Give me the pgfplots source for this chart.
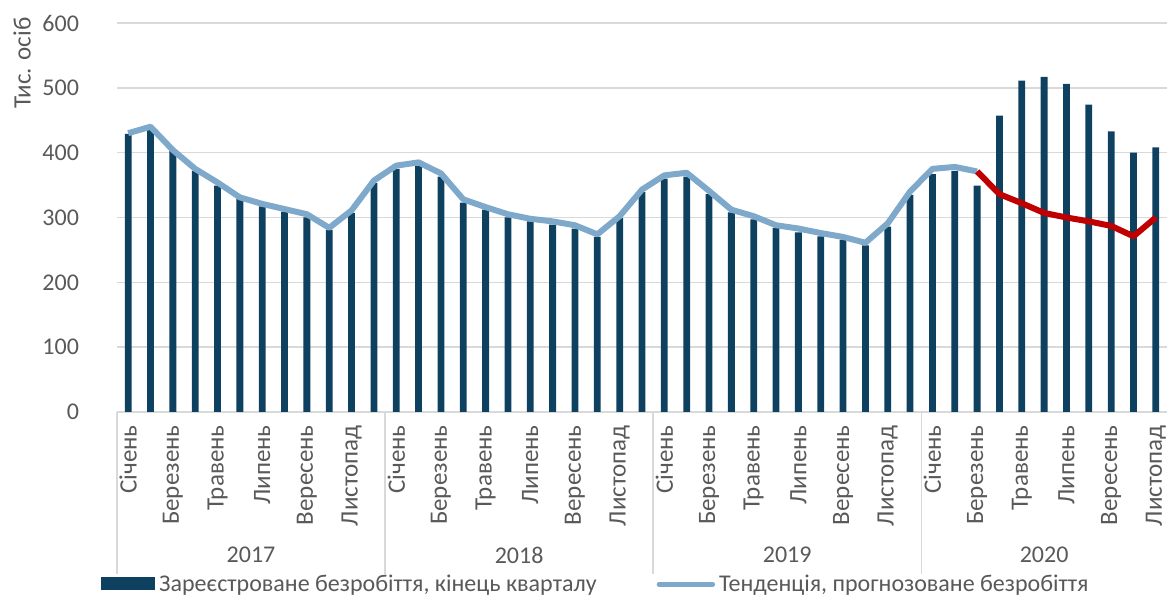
\documentclass[border=0pt]{standalone}
\usepackage{pgfplots}
\pgfplotsset{compat=1.18}
\usepackage{fontspec}
\setmainfont{Carlito}
\definecolor{navy}{HTML}{0E4160}
\definecolor{lblue}{HTML}{7FA9CA}
\definecolor{dred}{HTML}{C00000}
\definecolor{txt}{HTML}{595959}
\definecolor{gridc}{HTML}{D9D9D9}
\begin{document}
\begin{tikzpicture}
\useasboundingbox (0,0) rectangle (583.5pt,298.5pt);
\begin{axis}[
  at={(58.5pt,92.5pt)}, anchor=south west, scale only axis,
  width=525pt, height=194.5pt,
  xmin=0.5, xmax=47.5, ymin=0, ymax=600,
  ytick={0,100,...,600},
  xtick={1,3,...,47},
  xticklabels={Січень,Березень,Травень,Липень,Вересень,Листопад,
               Січень,Березень,Травень,Липень,Вересень,Листопад,
               Січень,Березень,Травень,Липень,Вересень,Листопад,
               Січень,Березень,Травень,Липень,Вересень,Листопад},
  axis x line*=bottom, axis y line*=left,
  x axis line style={draw=gridc, line width=0.75pt, -},
  y axis line style={draw=none},
  major tick length=0pt,
  ymajorgrids, grid style={draw=gridc, line width=0.75pt},
  tick label style={font=\fontsize{12}{14}\selectfont, text=txt},
  /pgf/number format/assume math mode=true,
  yticklabel style={xshift=-15.5pt},
  xticklabel style={yshift=-6.5pt, rotate=90, anchor=east, inner sep=0pt, font=\fontsize{12.5}{14}\selectfont},
  clip=false,
  legend style={at={(0.457,-0.443)}, anchor=center, draw=none, fill=none,
    legend columns=2, font=\fontsize{12}{14}\selectfont, text=txt,
    /tikz/every even column/.append style={column sep=28pt},
    legend cell align=left},
]
\addplot[ybar, bar width=3.4pt, fill=navy, draw=none,
  legend image code/.code={\fill[navy] (0pt,-3pt) rectangle (27pt,3.5pt);}]
coordinates {
(1,429) (2,436) (3,403) (4,372) (5,349) (6,329) (7,317) (8,309) (9,300) (10,281) (11,307) (12,353)
(13,375) (14,380) (15,363) (16,323) (17,312) (18,300) (19,294) (20,289) (21,283) (22,270) (23,299) (24,339)
(25,360) (26,363) (27,336) (28,308) (29,297) (30,284) (31,277) (32,271) (33,266) (34,257) (35,286) (36,335)
(37,367) (38,372) (39,349) (40,457) (41,511) (42,517) (43,506) (44,474) (45,433) (46,400) (47,408)
};
\addlegendentry{Зареєстроване безробіття, кінець кварталу}
\addplot[lblue, line width=3pt, line join=round,
  legend image code/.code={\draw[lblue, line width=2.2pt, line cap=round] (0pt,0pt) -- (27pt,0pt);}]
coordinates {
(1,430) (2,440) (3,404) (4,375) (5,354) (6,331) (7,321) (8,313) (9,305) (10,284) (11,311) (12,357)
(13,380) (14,385) (15,368) (16,328) (17,316) (18,305) (19,298) (20,294) (21,288) (22,274) (23,302) (24,343)
(25,365) (26,369) (27,341) (28,312) (29,302) (30,288) (31,283) (32,276) (33,270) (34,261) (35,291) (36,340)
(37,375) (38,378) (39,371)
};
\addlegendentry{Тенденція, прогнозоване безробіття}
\addplot[dred, line width=3pt, line join=round, forget plot]
coordinates {
(39,371) (40,336) (41,322) (42,307) (43,300) (44,294) (45,287) (46,271) (47,300)
};
\draw[gridc, line width=0.75pt] (axis cs:0.5,0) -- ++(0pt,-81pt);
\draw[gridc, line width=0.75pt] (axis cs:12.5,0) -- ++(0pt,-81pt);
\draw[gridc, line width=0.75pt] (axis cs:24.5,0) -- ++(0pt,-81pt);
\draw[gridc, line width=0.75pt] (axis cs:36.5,0) -- ++(0pt,-81pt);
\node[font=\fontsize{12}{14}\selectfont, text=txt, yshift=-71.5pt] at (axis cs:6.5,0) {2017};
\node[font=\fontsize{12}{14}\selectfont, text=txt, yshift=-71.5pt] at (axis cs:18.5,0) {2018};
\node[font=\fontsize{12}{14}\selectfont, text=txt, yshift=-71.5pt] at (axis cs:30.5,0) {2019};
\node[font=\fontsize{12}{14}\selectfont, text=txt, yshift=-71.5pt] at (axis cs:42,0) {2020};
\end{axis}
\node[rotate=90, font=\fontsize{12.5}{14}\selectfont, text=txt] at (11pt,267pt) {Тис. осіб};
\end{tikzpicture}
\end{document}
